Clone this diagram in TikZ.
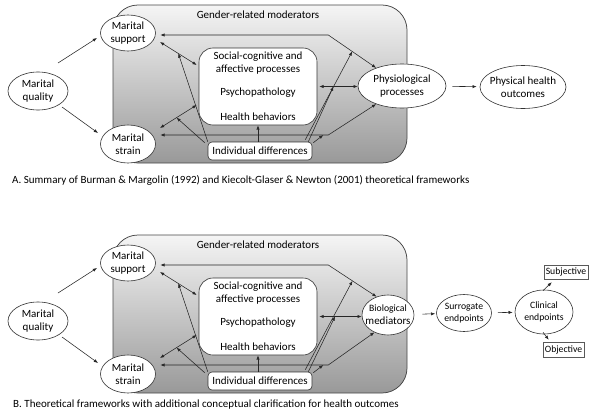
\documentclass[tikz,border=0pt]{standalone}
\usepackage{fontspec}
\setmainfont{Carlito}
\usetikzlibrary{shapes.geometric,arrows.meta,calc}

\tikzset{
 ell/.style={ellipse, draw=black!80, fill=white, line width=0.6pt, inner sep=0pt},
 txt/.style={align=center, inner sep=0pt},
 small/.style={font=\fontsize{9.7}{12}\selectfont},
 gbox/.style={draw=black!72, line width=0.75pt, rounded corners=25pt, top color=black!4, bottom color=black!40, inner sep=0pt},
 wbox/.style={draw=black!80, fill=white, line width=0.6pt, rounded corners=14pt, inner sep=0pt},
 idbox/.style={draw=black!80, fill=white, line width=0.6pt, rounded corners=4pt, inner sep=0pt},
 sqbox/.style={draw=black!65, fill=white, line width=0.5pt, inner sep=0pt},
 arr/.style={-{Latex[length=4.2pt,width=3.2pt]}, line width=0.55pt, draw=black!85},
 arrr/.style={{Latex[length=4.2pt,width=3.2pt]}-{Latex[length=4.2pt,width=3.2pt]}, line width=0.55pt, draw=black!85},
}

% #1 prefix, #2 y offset, #3 right node text, #4 #5 right node centre,
% #6 #7 right node width/height, #8 #9 anchor angles of the two bent lines
\newcommand\mypanel[9]{%
\begin{scope}[shift={(0,#2)}]
 \node[gbox, minimum width=294, minimum height=158] (#1g) at (260,84) {};
 \node[txt] (#1gt) at (258,15) {Gender-related moderators};
 \node[wbox, minimum width=118, minimum height=77] (#1box) at (258,86.5) {};
 \node[txt] (#1t1) at (258,63.5) {Social-cognitive and\\affective processes};
 \node[txt] (#1t2) at (258,93) {Psychopathology};
 \node[txt] (#1t3) at (258,117) {Health behaviors};
 \node[idbox, minimum width=104, minimum height=18] (#1id) at (260,151) {Individual differences};
 \node[ell, minimum width=60, minimum height=38] (#1mq) at (38,91) {};
 \node[txt] (#1mqt) at (#1mq) {Marital\\quality};
 \node[ell, minimum width=55, minimum height=36] (#1ms) at (128,33) {};
 \node[txt] (#1mst) at (#1ms) {Marital\\support};
 \node[ell, minimum width=55, minimum height=38] (#1mt) at (128,144) {};
 \node[txt] (#1mtt) at (#1mt) {Marital\\strain};
 \node[ell, minimum width=#6, minimum height=#7] (#1R) at (#4,#5) {};
 \node[txt] (#1Rt) at (#1R) {#3};
\end{scope}
 \coordinate (#1s3a) at ($(#1ms)+(32,9)$);
 \coordinate (#1s3b) at ($(#1box.west)+(-2,-21.5)$);
 \coordinate (#1s4a) at ($(#1mt)+(32,-16)$);
 \coordinate (#1s4b) at ($(#1box.west)+(-2,18.5)$);
 \coordinate (#1ua) at ($(#1ms.east)+(4.5,2)$);
 \coordinate (#1uc) at ($(#1ms.east)+(172.5,2)$);
 \coordinate (#1la) at ($(#1mt.east)+(4.5,-9)$);
 \coordinate (#1lc) at ($(#1mt.east)+(172.5,-9)$);
 \draw[arr] ($(#1mq)+(20,-28)$) -- ($(#1ms)+(-31,5)$);
 \draw[arr] ($(#1mq)+(24,16)$) -- ($(#1mt)+(-30,-11)$);
 \draw[arrr] (#1s3a) -- (#1s3b);
 \draw[arrr] (#1s4a) -- (#1s4b);
 \draw[arr] (#1id.north west) -- ($(#1s3a)!0.5!(#1s3b)$);
 \draw[arr] ($(#1id.north west)+(-3,1)$) -- ($(#1s4a)!0.45!(#1s4b)$);
 \draw[arr] (#1box.south |- #1id.north) -- (#1box.south);
 \draw[arrr] (#1ua) -- (#1uc) -- (#1R.#8);
 \draw[arrr] (#1la) -- (#1lc) -- (#1R.#9);
 \draw[arrr, shorten <=2pt] (#1box.east) -- (#1box.east -| #1R.west);
 \draw[arr] ($(#1id.north east)+(-7,-2)$) -- ($(#1uc)!0.5!(#1R.#8)$);
 \draw[arr] ($(#1id.north east)+(-4,0)$) -- ($(#1box.east)!0.4!(#1box.east -| #1R.west)$);
 \draw[arr] ($(#1id.north east)+(1,1)$) -- ($(#1lc)+(-5,0)$);
}

\begin{document}
\begin{tikzpicture}[x=1pt, y=-1pt, font=\fontsize{11}{13}\selectfont]
\useasboundingbox (0,0) rectangle (600,415);
\fill[white] (0,0) rectangle (600,415);

\mypanel{A}{0}{Physiological\\processes}{402}{86}{88}{44}{145}{215}
\node[ell, minimum width=86, minimum height=43] (Apho) at (523,87) {};
\node[txt] (Aphot) at (Apho) {Physical health\\outcomes};
\draw[arr, shorten <=6pt, shorten >=3pt] (AR) -- (Apho);

\node[txt, anchor=west] (capA) at (12,180) {A. Summary of Burman \& Margolin (1992) and Kiecolt-Glaser \& Newton (2001) theoretical frameworks};

\mypanel{B}{230}{\fontsize{9.7}{12.5}\selectfont Biological\\mediators}{388}{85}{52}{40}{122}{232}
\begin{scope}[shift={(0,230)}]
 \node[ell, minimum width=55, minimum height=37] (Bsurr) at (464,83) {};
 \node[txt, small] (Bsurrt) at (Bsurr) {Surrogate\\endpoints};
 \node[ell, minimum width=58, minimum height=44] (Bclin) at (544,82) {};
 \node[txt, small] (Bclint) at (Bclin) {Clinical\\endpoints};
 \node[sqbox, small, minimum width=44, minimum height=14] (Bsubj) at (566,42) {Subjective};
 \node[sqbox, small, minimum width=41, minimum height=15] (Bobj) at (563.5,119.5) {Objective};
\end{scope}
\draw[arr, shorten <=8pt, shorten >=1pt] (BR) -- (Bsurr);
\draw[arr, shorten <=6pt, shorten >=2pt] (Bsurr) -- (Bclin);
\draw[arr] ($(Bclin.north)+(-1,1)$) -- ($(Bsubj.south west)+(8,3)$);
\draw[arr] ($(Bclin.south)+(-1,-2)$) -- ($(Bobj.north west)+(6,-2)$);

\node[txt, anchor=west] (capB) at (13,405) {B. Theoretical frameworks with additional conceptual clarification for health outcomes};
\end{tikzpicture}
\end{document}
